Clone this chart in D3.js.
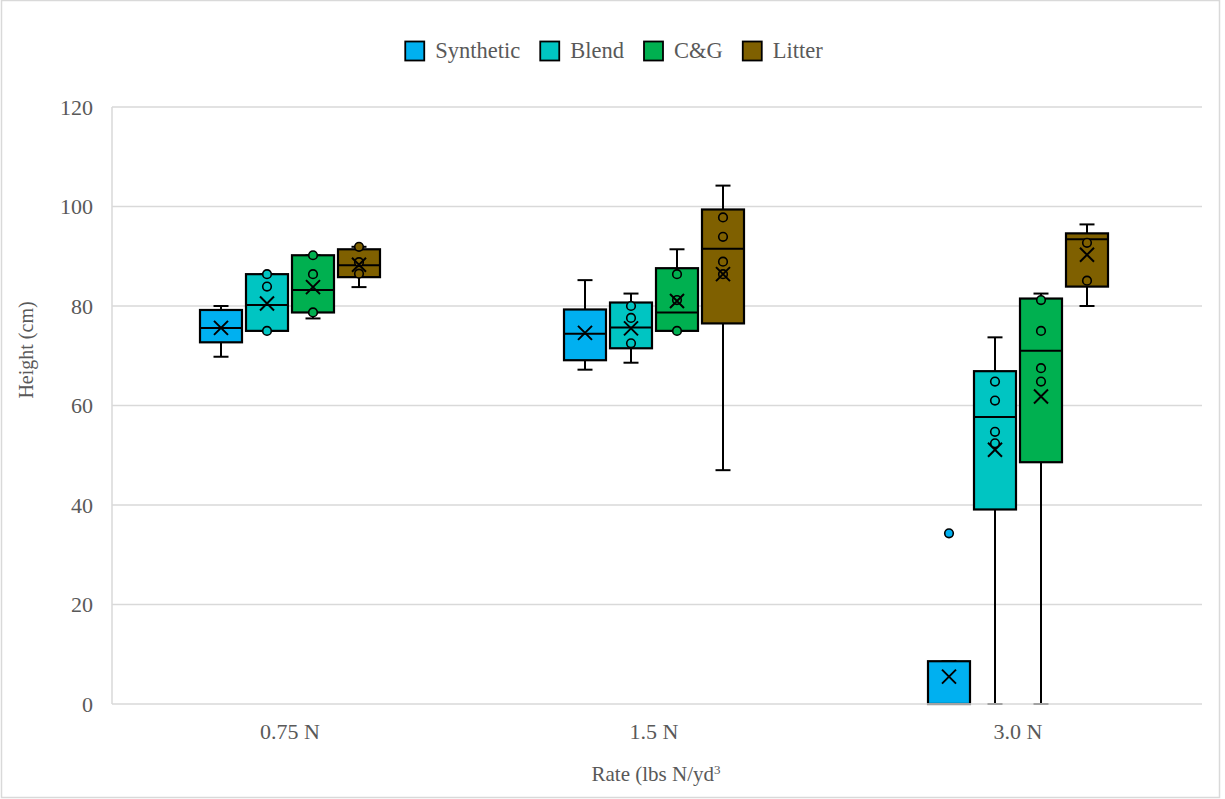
<!DOCTYPE html>
<html>
<head>
<meta charset="utf-8">
<script src="https://cdn.jsdelivr.net/npm/d3@7"></script>
<style>
  html, body { margin: 0; padding: 0; background: #fff; }
  svg { display: block; }
</style>
</head>
<body>
<svg id="chart" width="1225" height="799"></svg>
<script>
// ---------- data ----------
const categories = ["0.75 N", "1.5 N", "3.0 N"];
const seriesNames = ["Synthetic", "Blend", "C&G", "Litter"];
const seriesColors = ["#00B0F0", "#00C5C2", "#00B050", "#7F6000"];
const yTicks = [0, 20, 40, 60, 80, 100, 120];

// per series: values for each category
const synthMin  = [69.8, 67.2, 0];
const synthQ1   = [72.7, 69.1, 0];
const synthMed  = [75.6, 74.4, 0];
const synthQ3   = [79.2, 79.3, 8.6];
const synthMax  = [80.0, 85.2, 8.6];
const synthMean = [75.6, 74.6, 5.5];
const synthPts  = [[], [], []];
const synthOut  = [[], [], [34.3]];

const blendMin  = [75.0, 68.6, 0];
const blendQ1   = [75.0, 71.5, 39.1];
const blendMed  = [80.2, 75.7, 57.7];
const blendQ3   = [86.4, 80.7, 66.9];
const blendMax  = [86.4, 82.5, 73.7];
const blendMean = [80.5, 75.5, 51.1];
const blendPts  = [[86.4, 83.9, 75.0], [80.0, 77.6, 72.5], [64.8, 61.0, 54.7, 52.4]];
const blendOut  = [[], [], []];

const cgMin  = [77.5, 75.0, 0];
const cgQ1   = [78.7, 75.0, 48.6];
const cgMed  = [83.2, 78.7, 71.0];
const cgQ3   = [90.2, 87.6, 81.5];
const cgMax  = [90.2, 91.4, 82.5];
const cgMean = [83.8, 81.0, 61.8];
const cgPts  = [[90.2, 86.4, 78.7], [86.4, 81.2, 75.0], [81.2, 75.0, 67.5, 64.8]];
const cgOut  = [[], [], []];

const litMin  = [83.8, 47.0, 80.0];
const litQ1   = [85.8, 76.5, 83.9];
const litMed  = [88.2, 91.5, 93.4];
const litQ3   = [91.4, 99.4, 94.6];
const litMax  = [91.9, 104.2, 96.4];
const litMean = [88.3, 86.4, 90.3];
const litPts  = [[91.9, 88.8, 86.5], [97.8, 93.9, 88.9, 86.4], [92.7, 85.1]];
const litOut  = [[], [], []];

// table built from the arrays
const stats = [
  {min: synthMin, q1: synthQ1, med: synthMed, q3: synthQ3, max: synthMax, mean: synthMean, pts: synthPts, out: synthOut},
  {min: blendMin, q1: blendQ1, med: blendMed, q3: blendQ3, max: blendMax, mean: blendMean, pts: blendPts, out: blendOut},
  {min: cgMin, q1: cgQ1, med: cgMed, q3: cgQ3, max: cgMax, mean: cgMean, pts: cgPts, out: cgOut},
  {min: litMin, q1: litQ1, med: litMed, q3: litQ3, max: litMax, mean: litMean, pts: litPts, out: litOut}
];
const boxes = [];
seriesNames.forEach((s, si) => {
  categories.forEach((c, ci) => {
    const st = stats[si];
    boxes.push({series: s, si, cat: c, min: st.min[ci], q1: st.q1[ci], med: st.med[ci],
      q3: st.q3[ci], max: st.max[ci], mean: st.mean[ci], pts: st.pts[ci], out: st.out[ci]});
  });
});

// ---------- layout ----------
const FONT = '"Liberation Serif", "Times New Roman", serif';
const TXT = "#595959";
const svg = d3.select("#chart");
const plotLeft = 112, plotRight = 1202, plotTop = 107, plotBottom = 704;

svg.append("rect").attr("x", 1.5).attr("y", 0.5).attr("width", 1218).attr("height", 797)
  .attr("fill", "#fff").attr("stroke", "#d9d9d9").attr("stroke-width", 1.5);

const x = d3.scaleBand().domain(categories).range([108, 1200]).padding(0);
const xs = d3.scaleBand().domain(seriesNames).range([-92, 92]).padding(0);
const y = d3.scaleLinear().domain([0, 120]).range([plotBottom, plotTop]);
const color = d3.scaleOrdinal().domain(seriesNames).range(seriesColors);

// gridlines
svg.append("g").selectAll("line").data(yTicks.filter(t => t > 0)).join("line")
  .attr("x1", plotLeft).attr("x2", plotRight)
  .attr("y1", d => y(d)).attr("y2", d => y(d))
  .attr("stroke", "#d9d9d9").attr("stroke-width", 1.5);

// y axis line
svg.append("line").attr("x1", plotLeft).attr("x2", plotLeft).attr("y1", plotTop).attr("y2", plotBottom)
  .attr("stroke", "#d9d9d9").attr("stroke-width", 1.5);

// y tick labels
const yAxis = d3.axisLeft(y).tickValues(yTicks).tickSize(0).tickPadding(0).tickFormat(d3.format("d"));
const yg = svg.append("g").attr("transform", `translate(93,0)`).call(yAxis)
  .attr("font-family", FONT).attr("font-size", 22);
yg.select(".domain").remove();
yg.selectAll("text").attr("fill", TXT).attr("dy", "0.32em");

// x tick labels
const xAxis = d3.axisBottom(x).tickSize(0).tickPadding(0);
const xg = svg.append("g").attr("transform", `translate(0,723)`).call(xAxis)
  .attr("font-family", FONT).attr("font-size", 22);
xg.select(".domain").remove();
xg.selectAll("text").attr("fill", TXT).attr("dy", "0.71em");

// axis titles
svg.append("text").attr("transform", "translate(33,350) rotate(-90)").attr("text-anchor", "middle")
  .attr("font-family", FONT).attr("font-size", 20).attr("fill", TXT).text("Height (cm)");
const xt = svg.append("text").attr("x", 656).attr("y", 781).attr("text-anchor", "middle")
  .attr("font-family", FONT).attr("font-size", 21).attr("fill", TXT);
xt.append("tspan").text("Rate (lbs N/yd");
xt.append("tspan").attr("dy", -7).attr("font-size", 13).text("3");

// boxes
const boxW = xs.bandwidth() - 4;
const cx = d => x(d.cat) + x.bandwidth() / 2 + xs(d.series) + xs.bandwidth() / 2;
const g = svg.append("g");
const bx = g.selectAll("g.box").data(boxes).join("g").attr("class", "box");

// whiskers
bx.append("line").attr("x1", cx).attr("x2", cx).attr("y1", d => y(d.max)).attr("y2", d => y(d.q3))
  .attr("stroke", "#000").attr("stroke-width", 2);
bx.append("line").attr("x1", cx).attr("x2", cx).attr("y1", d => y(d.q1)).attr("y2", d => y(d.min))
  .attr("stroke", "#000").attr("stroke-width", 2);
bx.append("line").attr("x1", d => cx(d) - 7.5).attr("x2", d => cx(d) + 7.5).attr("y1", d => y(d.max)).attr("y2", d => y(d.max))
  .attr("stroke", "#000").attr("stroke-width", 2);
bx.append("line").attr("x1", d => cx(d) - 7.5).attr("x2", d => cx(d) + 7.5).attr("y1", d => y(d.min)).attr("y2", d => y(d.min))
  .attr("stroke", "#000").attr("stroke-width", 2);

// box
bx.append("rect").attr("x", d => cx(d) - boxW / 2).attr("width", boxW)
  .attr("y", d => y(d.q3)).attr("height", d => y(d.q1) - y(d.q3))
  .attr("fill", d => color(d.series)).attr("stroke", "#000").attr("stroke-width", 2.2);
// median
bx.append("line").attr("x1", d => cx(d) - boxW / 2).attr("x2", d => cx(d) + boxW / 2)
  .attr("y1", d => y(d.med)).attr("y2", d => y(d.med))
  .attr("stroke", "#000").attr("stroke-width", 2);

// inner points & outliers
bx.selectAll("circle.pt").data(d => d.pts.concat(d.out).map(v => ({v, d}))).join("circle").attr("class", "pt")
  .attr("cx", p => cx(p.d)).attr("cy", p => y(p.v)).attr("r", 4.3)
  .attr("fill", p => color(p.d.series)).attr("stroke", "#000").attr("stroke-width", 1.6);

// mean markers (X)
const m = 7;
bx.append("path").attr("d", d => {
  const X = cx(d), Y = y(d.mean);
  return `M${X - m},${Y - m}L${X + m},${Y + m}M${X - m},${Y + m}L${X + m},${Y - m}`;
}).attr("stroke", "#000").attr("stroke-width", 2).attr("fill", "none");

// bottom axis line drawn over
svg.append("line").attr("x1", plotLeft).attr("x2", plotRight).attr("y1", y(0)).attr("y2", y(0))
  .attr("stroke", "#d9d9d9").attr("stroke-width", 1.5);

// legend
const leg = svg.append("g");
const items = leg.selectAll("g").data(seriesNames).join("g");
items.append("rect").attr("width", 19).attr("height", 19).attr("y", 41.5)
  .attr("fill", d => color(d)).attr("stroke", "#000").attr("stroke-width", 1.8);
items.append("text").attr("x", 30).attr("y", 58)
  .attr("font-family", FONT).attr("font-size", 22.5).attr("fill", TXT).text(d => d);
let offs = 0; const offsets = [];
items.each(function(d) {
  const tw = d3.select(this).select("text").node().getComputedTextLength();
  offsets.push(offs);
  offs += 30 + tw + 20;
});
const total = offs - 20;
const startX = 614 - total / 2;
items.attr("transform", (d, i) => `translate(${startX + offsets[i]},0)`);
</script>
</body>
</html>
